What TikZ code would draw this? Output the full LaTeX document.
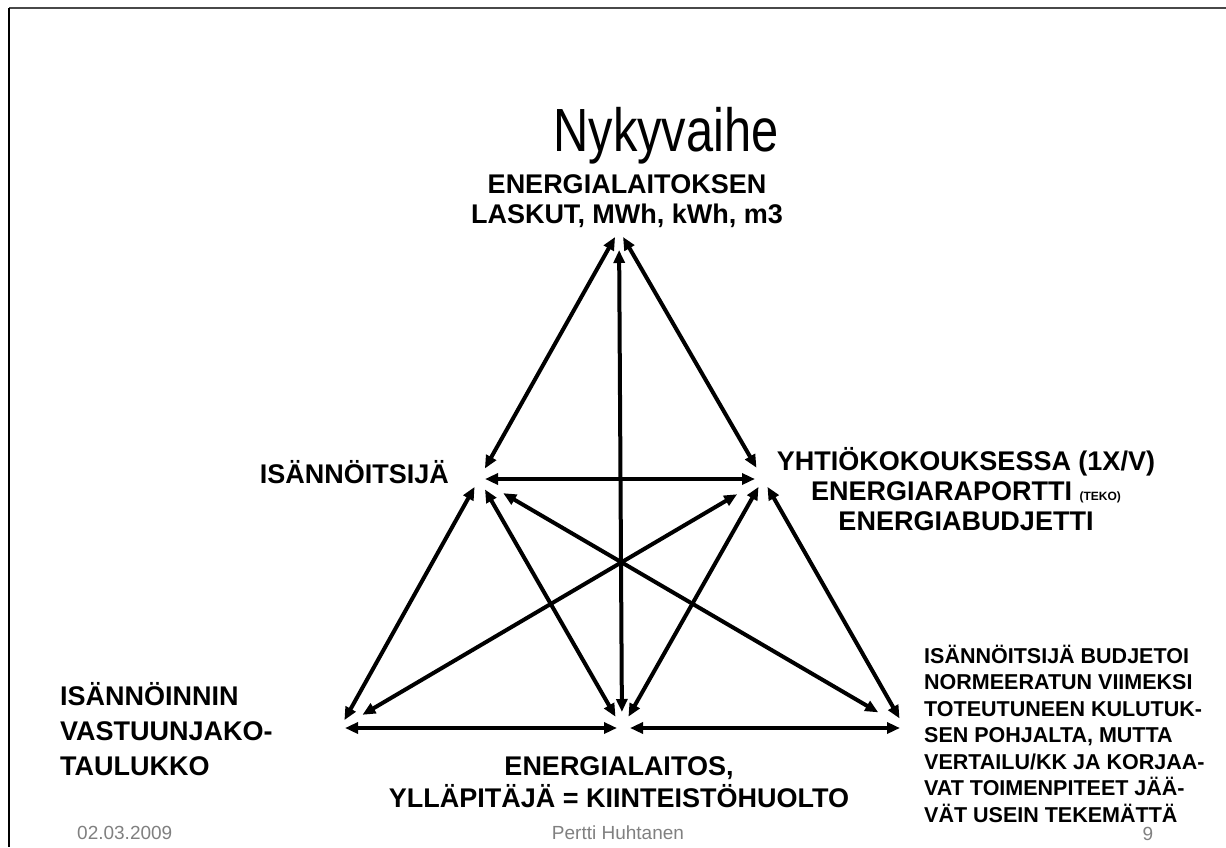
\documentclass[tikz,border=0pt]{standalone}
\usepackage{fontspec}
\setmainfont{Liberation Sans}
\usetikzlibrary{arrows.meta}
\definecolor{footgray}{RGB}{128,128,128}
\definecolor{framegray}{RGB}{72,72,72}
\begin{document}
\begin{tikzpicture}[x=1pt,y=-1pt,
  tip/.tip={Triangle[length=13pt,width=11pt]},
  arr/.style={line width=4pt, tip-tip},
  lbl/.style={font=\bfseries\fontsize{27}{30}\selectfont, inner sep=0pt},
  note/.style={font=\bfseries\fontsize{21.5}{26.5}\selectfont, inner sep=0pt, align=left},
  foot/.style={font=\fontsize{19}{19}\selectfont, text=footgray, inner sep=0pt},
  ttl/.style={font=\fontsize{61}{61}\selectfont, inner sep=0pt}]
\useasboundingbox (0,0) rectangle (1226,847);
% slide frame
\draw[framegray, line width=2pt] (9,8) -- (1226,8);
\draw[black, line width=2.5pt] (9,8) -- (9,847);

% title
\node[ttl, anchor=base, xscale=0.8] (title) at (666,151) {Nykyvaihe};

% hubs where the arrows meet
\coordinate (T)  at (619,230);
\coordinate (L)  at (479,479);
\coordinate (R)  at (763,479);
\coordinate (BL) at (340,728);
\coordinate (B)  at (622,728);
\coordinate (BR) at (905,728);

% labels (multi-line nodes are placed by the baseline of their last line)
\node[lbl, anchor=base, align=center] (top) at (627,223)
  {ENERGIALAITOKSEN\\LASKUT, MWh, kWh, m3};
\node[lbl, anchor=base east] (isa) at (449,483) {ISÄNNÖITSIJÄ};
\node[lbl, anchor=base, align=center] (yht) at (966,530)
  {YHTIÖKOKOUKSESSA (1X/V)\\ENERGIARAPORTTI {\fontsize{12}{12}\selectfont (TEKO)}\\ENERGIABUDJETTI};
\node[lbl, anchor=base west, align=left, font=\bfseries\fontsize{27}{35}\selectfont] (vast) at (60,775)
  {ISÄNNÖINNIN\\VASTUUNJAKO-\\TAULUKKO};
\node[lbl, anchor=base, align=center, font=\bfseries\fontsize{27}{32}\selectfont] (ener) at (619,807)
  {ENERGIALAITOS,\\YLLÄPITÄJÄ = KIINTEISTÖHUOLTO};
\node[note, anchor=base west] (budj) at (924,822)
  {ISÄNNÖITSIJÄ BUDJETOI\\NORMEERATUN VIIMEKSI\\TOTEUTUNEEN KULUTUK-\\SEN POHJALTA, MUTTA\\VERTAILU/KK JA KORJAA-\\VAT TOIMENPITEET JÄÄ-\\VÄT USEIN TEKEMÄTTÄ};

% footer
\node[foot, anchor=base west] (date) at (77,839) {02.03.2009};
\node[foot, anchor=base] (author) at (618,839) {Pertti Huhtanen};
\node[foot, anchor=base] (page) at (1148,840) {9};

% connectors
\draw[arr, shorten <=8pt,  shorten >=12pt] (T) -- (L);
\draw[arr, shorten <=8pt,  shorten >=13pt] (T) -- (R);
\draw[arr, shorten <=16pt, shorten >=20pt] (B) -- (T);
\draw[arr, shorten <=6pt,  shorten >=8pt]  (L) -- (R);
\draw[arr, shorten <=9pt,  shorten >=9pt]  (L) -- (BL);
\draw[arr, shorten <=12pt, shorten >=13pt] (L) -- (B);
\draw[arr, shorten <=28pt, shorten >=31pt] (L) -- (BR);
\draw[arr, shorten <=30pt, shorten >=26pt] (R) -- (BL);
\draw[arr, shorten <=9pt,  shorten >=13pt] (R) -- (B);
\draw[arr, shorten <=9pt,  shorten >=11pt] (R) -- (BR);
\draw[arr, shorten <=5pt,  shorten >=5pt]  (BL) -- (B);
\draw[arr, shorten <=8pt,  shorten >=5pt]  (B) -- (BR);
\end{tikzpicture}
\end{document}
